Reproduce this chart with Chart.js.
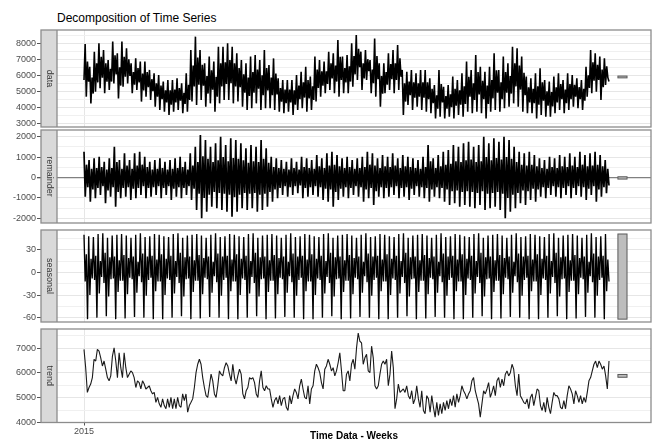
<!DOCTYPE html>
<html>
<head>
<meta charset="utf-8">
<script src="https://cdn.jsdelivr.net/npm/chart.js@4"></script>
<style>
  body { margin: 0; background: #fff; }
  #wrap { position: relative; width: 656px; height: 443px; overflow: hidden; font-family: "Liberation Sans", Arial, sans-serif; }
  #wrap canvas { position: absolute; left: 0; }
  .txt { position: absolute; white-space: nowrap; }
</style>
</head>
<body>
<div id="wrap">
  <div class="txt" style="left:57px;top:11px;font-size:12px;line-height:14px;color:#000;">Decomposition of Time Series</div>
  <canvas id="c0"></canvas>
  <canvas id="c1"></canvas>
  <canvas id="c2"></canvas>
  <canvas id="c3"></canvas>
  <div class="txt" style="left:57px;width:594px;top:429px;text-align:center;font-size:10px;line-height:14px;font-weight:bold;color:#000;">Time Data - Weeks</div>
</div>
<script>
// values (weeks since the start of 2015)
const weeksSpan = 300;
const xTickWeeks = [0];
const xTickLabels = ["2015"];
const panelNames = ["data", "remainder", "seasonal", "trend"];

const dataTicks = [3000, 4000, 5000, 6000, 7000, 8000];
const remainderTicks = [-2000, -1000, 0, 1000, 2000];
const seasonalTicks = [-60, -30, 0, 30];
const trendTicks = [4000, 5000, 6000, 7000];

// scale bars at the right edge: centre of each bar, common length
const rangeBarCenters = [5940, -20, -5.5, 5880];
const rangeBarLength = 113;
const rangeBarWeeks = [305.1, 310.3];

const dataValues = [5750,
8000,4710,6900,5650, 6580,4290,5900,4900, 7520,5020,6800,5600, 8040,5230,7200,5900, 7620,4920,6800,5650,
7000,5120,6450,5650, 8150,5540,7300,6100, 7420,4600,6550,5400, 8150,5330,7200,5950, 7730,5540,7050,6000,
6790,4920,6250,5450, 7100,5120,6500,5600, 6900,4400,6150,5100, 6900,4710,6250,5300, 6380,4500,5800,5050,
6170,4080,5550,4700, 6060,3880,5400,4550, 5650,3770,5100,4350, 5750,3560,5100,4200, 5750,3770,5150,4350,
5850,3880,5250,4450, 5540,3670,4950,4250, 6170,3770,5450,4500, 7620,4400,6650,5350, 8460,4190,7150,5450,
7620,4500,6700,5400, 6790,4080,6000,4900, 7210,4290,6350,5150, 6900,3770,5950,4700, 7830,4290,6800,5350,
7830,4500,6850,5500, 8040,4500,7000,5550, 7830,4290,6800,5350, 7420,4400,6500,5300, 7000,4080,6100,4950,
6790,3880,5900,4750, 7210,3980,6250,4950, 7310,4290,6400,5200, 7000,3880,6050,4800, 7620,3980,6500,5100,
6690,3980,5900,4800, 7100,3880,6150,4850, 5850,3770,5250,4400, 5750,3670,5150,4300, 5750,3770,5150,4350,
5750,3560,5100,4200, 6060,3880,5400,4550, 6270,3980,5600,4650, 6580,3770,5750,4600, 5960,3880,5350,4500,
7210,4400,6400,5250, 7000,4710,6300,5400, 6900,4920,6300,5500, 7520,5120,6800,5850, 7420,4920,6650,5650,
8250,4710,7200,5750, 7210,4920,6500,5600, 7310,4920,6600,5650, 8040,5330,7250,6100, 8560,5750,7700,6550,
7520,5120,6800,5850, 7620,5750,7050,6300, 7000,4920,6400,5550, 8350,4710,7250,5800, 6790,4080,6000,4900,
6790,4920,6250,5450, 7420,5120,6750,5800, 7620,4920,6800,5750, 7940,5120,7100,5950, 6380,3560,5550,4400,
6270,4190,5650,4800, 6380,3880,5600,4650, 6170,4080,5550,4700, 6380,3880,5600,4650, 6380,3770,5600,4550,
5850,3670,5200,4300, 5440,3350,4800,3950, 6380,3460,5500,4350, 5330,3350,4750,3950, 5440,3460,4850,4050,
5960,3350,5200,4150, 5750,3560,5100,4200, 6170,3460,5350,4250, 6900,3770,5950,4700, 6380,3670,5550,4500,
7310,3770,6250,4850, 6580,3670,5700,4550, 6270,3350,5400,4250, 6580,3770,5750,4600, 7420,3880,6350,4950,
6380,3770,5600,4550, 7210,3980,6250,4950, 6790,4080,6000,4900, 7830,4290,6800,5350, 7730,4080,6650,5150,
7210,3770,6200,4800, 5960,3670,5300,4350, 5850,3670,5200,4300, 6170,3350,5350,4200, 6480,3560,5600,4450,
5750,3460,5050,4150, 5650,3460,5000,4100, 5960,3670,5300,4350, 6170,3880,5500,4550, 5750,3670,5150,4300,
6170,3880,5500,4550, 6060,4080,5450,4700, 5850,3980,5300,4550, 5750,3880,5200,4450, 6580,4710,6050,5250,
7620,4920,6850,5700, 7420,5020,6700,5750, 7210,4500,6400,5300, 7100,5440,6600,5900,
5650];

const remainderValues = [
1267,-938,630,-470, 858,-1183,430,-590, 940,-1020,470,-510, 1022,-856,510,-430, 777,-1265,390,-630,
940,-938,470,-470, 1512,-1428,760,-710, 858,-1020,430,-510, 1185,-938,590,-470, 858,-1101,430,-550,
1185,-1020,590,-510, 1267,-856,630,-430, 1022,-1020,510,-510, 777,-938,390,-470, 858,-856,430,-430,
940,-1020,470,-510, 777,-856,390,-430, 858,-1101,430,-550, 940,-938,470,-470, 1022,-1020,510,-510,
777,-856,390,-430, 1185,-1101,590,-550, 1512,-1591,760,-800, 2083,-2000,1040,-1000, 1838,-1673,920,-840,
1512,-1428,760,-710, 1675,-1510,840,-760, 2001,-1591,1000,-800, 1593,-1673,800,-840, 1920,-1918,960,-960,
1838,-1673,920,-840, 1675,-1510,840,-760, 1430,-1591,720,-800, 1593,-1510,800,-760, 1512,-1673,760,-840,
1838,-1591,920,-800, 1430,-1428,720,-710, 1022,-1183,510,-590, 940,-1020,470,-510, 858,-856,430,-430,
777,-938,390,-470, 940,-856,470,-430, 777,-775,390,-390, 1022,-1020,510,-510, 940,-938,470,-470,
858,-856,430,-430, 1103,-938,550,-470, 940,-1101,470,-550, 1185,-1183,590,-590, 1267,-1428,630,-710,
1103,-1101,550,-550, 940,-938,470,-470, 1022,-1020,510,-510, 858,-856,430,-430, 940,-938,470,-470,
1022,-1183,510,-590, 1267,-1020,630,-510, 1185,-1346,590,-670, 940,-938,470,-470, 1103,-1020,550,-510,
1022,-938,510,-470, 1185,-856,590,-430, 940,-1020,470,-510, 1103,-938,550,-470, 1022,-1101,510,-550,
940,-856,470,-430, 858,-938,430,-470, 1022,-1020,510,-510, 1593,-1183,800,-590, 940,-938,470,-470,
1103,-1020,550,-510, 1267,-1183,630,-590, 1348,-1346,670,-670, 1593,-1265,800,-630, 1512,-1428,760,-710,
1675,-1346,840,-670, 1757,-1428,880,-710, 1512,-1510,760,-760, 1593,-1346,800,-670, 2001,-1591,1000,-800,
1675,-1510,840,-760, 1920,-1428,960,-710, 1757,-1591,880,-800, 2001,-2000,1000,-1000, 1838,-1673,920,-840,
1512,-1510,760,-760, 1267,-1265,630,-630, 1185,-1346,590,-670, 1267,-1101,630,-550, 1103,-1183,550,-590,
940,-938,470,-470, 858,-1020,430,-510, 1022,-856,510,-430, 940,-938,470,-470, 1103,-1020,550,-510,
1022,-856,510,-430, 1185,-1020,590,-510, 1022,-856,510,-430, 1267,-938,630,-470, 1103,-1101,550,-550,
1185,-856,590,-430, 1267,-1183,630,-590, 1103,-938,550,-470, 858,-775,430,-390];

const seasonalValues = [
50,-12,24,-62,48,-30,18,-8, 47,-10,22,-60,51,-28,15,-6, 52,-14,26,-58,46,-32,20,-9, 49,-8,21,-62,50,-26,16,-11,
51,-11,23,-61,49,-29,19,-7, 46,-9,21,-59,50,-27,14,-5, 52,-13,25,-60,47,-31,21,-10, 48,-7,22,-62,51,-25,17,-12,
50,-12,24,-62,48,-30,18,-8, 47,-10,22,-60,51,-28,15,-6, 52,-14,26,-58,46,-32,20,-9, 49,-8,21,-62,50,-26,16,-11,
51,-11,23,-61,49,-29,19,-7, 46,-9,21,-59,50,-27,14,-5, 52,-13,25,-60,47,-31,21,-10, 48,-7,22,-62,51,-25,17,-12,
50,-12,24,-62,48,-30,18,-8, 47,-10,22,-60,51,-28,15,-6, 52,-14,26,-58,46,-32,20,-9, 49,-8,21,-62,50,-26,16,-11,
51,-11,23,-61,49,-29,19,-7, 46,-9,21,-59,50,-27,14,-5, 52,-13,25,-60,47,-31,21,-10, 48,-7,22,-62,51,-25,17,-12,
50,-12,24,-62,48,-30,18,-8, 47,-10,22,-60,51,-28,15,-6, 52,-14,26,-58,46,-32,20,-9, 49,-8,21,-62,50,-26,16,-11,
51,-11,23,-61,49,-29,19,-7, 46,-9,21,-59,50,-27,14,-5, 52,-13,25,-60,47,-31,21,-10, 48,-7,22,-62,51,-25,17,-12,
50,-12,24,-62,48,-30,18,-8, 47,-10,22,-60,51,-28,15,-6, 52,-14,26,-58,46,-32,20,-9, 49,-8,21,-62,50,-26,16,-11,
51,-11,23,-61,49,-29,19,-7, 46,-9,21,-59,50,-27,14,-5, 52,-13,25,-60,47,-31,21,-10, 48,-7,22,-62,51,-25,17,-12,
50,-12,24,-62,48,-30,18,-8, 47,-10,22,-60,51,-28,15,-6, 52,-14,26,-58,46,-32,20,-9, 49,-8,21,-62,50,-26,16,-11,
51,-11,23,-61,49,-29,19,-7, 46,-9,21,-59,50,-27,14,-5, 52,-13,25,-60,47,-31,21,-10, 48,-7,22,-62,51,-25,17,-12,
50,-12,24,-62,48,-30,18,-8, 47,-10,22,-60,51,-28,15,-6, 52,-14,26,-58,46,-32,20,-9, 49,-8,21,-62,50,-26,16,-11,
51,-11,23,-61,49,-29,19,-7, 46,-9,21,-59,50,-27,14,-5, 52,-13,25,-60,47,-31,21,-10, 48,-7,22,-62,51,-25,17,-12];

const trendValues = [
6950,6210,5210,5410,5550,5810,6550,6480,6950,6880,6610,6280,6480,6150,5810,5680,5880,6680,7010,6480,
5810,6810,6210,5810,6810,6210,5810,5950,6080,6010,5810,5410,5680,5610,5350,5680,5550,5350,5410,5480,
5280,5150,5210,4810,5010,4750,4610,4950,4680,4550,4950,4610,5010,4550,4950,4550,5010,4680,4610,5150,
4880,5150,4410,4680,4810,4950,5410,6010,6350,6550,6350,5810,5410,5080,5010,5480,5950,5680,5150,5010,
5480,6080,5950,5880,6210,6410,6280,5950,5680,6350,5810,5550,5880,6150,5950,5150,4950,5280,5410,5810,
5750,5810,5610,5150,5010,5680,6080,5410,5280,5480,5350,5350,4950,4610,4880,5010,4750,5080,4680,4950,
5010,4610,4480,5080,4750,5080,5350,5210,4950,5480,5750,5350,5010,4950,5480,4750,5350,5480,6080,6350,
6210,6010,5610,5350,6150,6280,6550,6350,6080,6210,5880,6080,6410,6810,6080,5280,
5280,5950,6080,5680,6350,6550,6150,7010,7610,7280,7210,6350,6610,6750,6080,6010,7080,6610,5480,5350,
5480,5950,6350,6480,6350,6550,5480,5950,6880,6210,4550,4950,5550,5210,5280,5350,5210,5480,5080,4950,
5280,4750,4950,5480,4950,4610,5280,4480,4350,5080,4950,4410,5080,4610,4210,4810,4280,4750,4350,4810,
4480,4880,4550,4950,4680,5080,4610,5150,4810,5080,5480,5280,5150,4950,5150,5280,5680,5810,5280,5010,
4750,4210,4750,5280,5150,5350,5610,5010,5210,5480,5080,5680,5810,5410,5750,5480,5950,6080,5880,6010,
6350,6150,5480,5080,5950,5080,4950,4810,4750,4950,4550,5010,5150,4680,5010,5350,5280,4680,4480,4810,
4410,5010,4610,4350,4810,5210,5080,5080,4950,4610,4550,4880,4550,5080,5480,5350,5150,4750,5280,5080,
4810,5080,4750,5010,4810,5210,5680,5810,6080,6350,6480,6210,6480,6350,6150,6280,5880,5350,6480];

// panel geometry and styling
const panels = [
  { values: dataValues,      ticks: dataTicks,      min: 2812, max: 8875, top: 30,  bottom: 127,   width: 1.6, color: "#000" },
  { values: remainderValues, ticks: remainderTicks, min: -2230, max: 2330, top: 130, bottom: 223,   width: 1.7, color: "#000" },
  { values: seasonalValues,  ticks: seasonalTicks,  min: -65.8, max: 56.3, top: 230, bottom: 322,   width: 1.35, color: "#000" },
  { values: trendValues,     ticks: trendTicks,     min: 3995, max: 7775,  top: 329, bottom: 422.5, width: 1.1, color: "#1a1a1a" }
];
const xMin = -15.43, xMax = 324;
const PAD = 8;
const FONT = "Liberation Sans";
Chart.defaults.font.family = FONT;

function toPoints(values) {
  const n = values.length;
  return values.map((v, i) => ({ x: i * weeksSpan / (n - 1), y: v }));
}

const facetPlugin = {
  id: "facet",
  afterDatasetsDraw(chart, args, o) {
    const { ctx, scales } = chart;
    const x0 = scales.x.getPixelForValue(rangeBarWeeks[0]);
    const x1 = scales.x.getPixelForValue(rangeBarWeeks[1]);
    const y0 = scales.y.getPixelForValue(o.barCenter + rangeBarLength / 2);
    const y1 = scales.y.getPixelForValue(o.barCenter - rangeBarLength / 2);
    ctx.save();
    ctx.fillStyle = "#bdbdbd";
    ctx.fillRect(x0, y0, x1 - x0, y1 - y0);
    ctx.strokeStyle = "#5a5a5a";
    ctx.lineWidth = 1;
    ctx.strokeRect(x0, y0, x1 - x0, y1 - y0);
    ctx.restore();
  },
  afterDraw(chart, args, o) {
    const { ctx, chartArea: a } = chart;
    const sx = a.left - 16;
    ctx.save();
    ctx.fillStyle = "#d9d9d9";
    ctx.fillRect(sx, a.top, 16, a.bottom - a.top);
    ctx.strokeStyle = "#8c8c8c";
    ctx.lineWidth = 1.3;
    ctx.strokeRect(sx, a.top, a.right - sx, a.bottom - a.top);
    ctx.beginPath();
    ctx.moveTo(a.left, a.top);
    ctx.lineTo(a.left, a.bottom);
    ctx.stroke();
    ctx.translate(sx + 8, (a.top + a.bottom) / 2);
    ctx.rotate(Math.PI / 2);
    ctx.fillStyle = "#333";
    ctx.font = "9px " + FONT;
    ctx.textAlign = "center";
    ctx.textBaseline = "middle";
    ctx.fillText(o.name, 0, 0);
    ctx.restore();
  }
};

panels.forEach((p, i) => {
  const isLast = i === panels.length - 1;
  const canvas = document.getElementById("c" + i);
  const cTop = p.top - PAD;
  const cHeight = isLast ? 443 - cTop : Math.round(p.bottom - p.top + 2 * PAD);
  canvas.width = 656;
  canvas.height = cHeight;
  canvas.style.top = cTop + "px";

  const majors = p.ticks;
  const step = majors[1] - majors[0];
  const allTicks = [];
  for (let v = majors[0] - step / 2; v <= p.max; v += step / 2) {
    if (v >= p.min) allTicks.push(v);
  }
  const isMajor = v => majors.includes(v);

  new Chart(canvas, {
    type: "line",
    data: {
      datasets: [{
        data: toPoints(p.values),
        borderColor: p.color,
        borderWidth: p.width,
        borderJoinStyle: "bevel",
        pointRadius: 0,
        tension: 0
      }]
    },
    options: {
      responsive: false,
      animation: false,
      parsing: false,
      normalized: true,
      events: [],
      layout: { padding: { left: 0, right: 5, top: PAD, bottom: isLast ? 0 : PAD } },
      plugins: {
        legend: { display: false },
        tooltip: { enabled: false },
        facet: { name: panelNames[i], barCenter: rangeBarCenters[i] }
      },
      scales: {
        x: {
          type: "linear",
          min: xMin,
          max: xMax,
          afterBuildTicks: s => { s.ticks = xTickWeeks.map(v => ({ value: v })); },
          afterFit: s => { s.height = isLast ? 443 - cTop - PAD - (p.bottom - p.top) : 0; },
          ticks: {
            display: isLast,
            color: "#4d4d4d",
            font: { size: 9 },
            padding: 1,
            maxRotation: 0,
            autoSkip: false,
            callback: (v, idx) => xTickLabels[idx]
          },
          grid: { color: "#e6e6e6", lineWidth: 1, drawTicks: isLast, tickLength: 3, tickColor: "#555" },
          border: { display: false }
        },
        y: {
          type: "linear",
          min: p.min,
          max: p.max,
          afterBuildTicks: s => { s.ticks = allTicks.map(v => ({ value: v })); },
          afterFit: s => { s.width = 57; },
          ticks: {
            color: "#4d4d4d",
            font: { size: 9 },
            padding: 1,
            autoSkip: false,
            callback: v => isMajor(v) ? String(v) : ""
          },
          grid: {
            color: c => (i === 1 && c.tick && c.tick.value === 0) ? "#808080" : (c.tick && isMajor(c.tick.value) ? "#e6e6e6" : "#f0f0f0"),
            lineWidth: c => (i === 1 && c.tick && c.tick.value === 0) ? 1.3 : 1,
            tickLength: 20,
            tickColor: c => (c.tick && isMajor(c.tick.value)) ? "#555" : "rgba(0,0,0,0)"
          },
          border: { display: false }
        }
      }
    },
    plugins: [facetPlugin]
  });
});
</script>
</body>
</html>
